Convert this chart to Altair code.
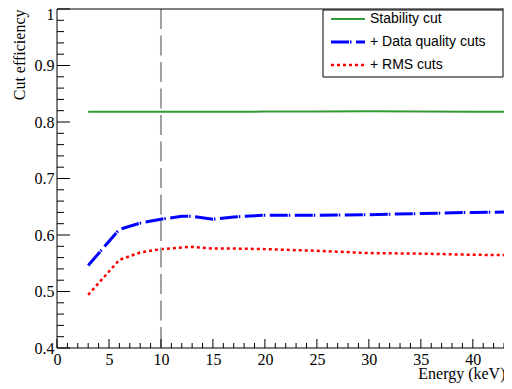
import altair as alt
import pandas as pd

# ---- data ----
energy = [3, 6, 8, 10, 12, 13, 15, 17, 20, 25, 30, 35, 40, 45]
stability = [0.818, 0.818, 0.818, 0.818, 0.818, 0.818, 0.818, 0.818, 0.8185, 0.8188, 0.819, 0.8185, 0.818, 0.818]
data_quality = [0.546, 0.610, 0.621, 0.628, 0.633, 0.633, 0.628, 0.632, 0.635, 0.635, 0.636, 0.638, 0.640, 0.641]
rms = [0.494, 0.556, 0.569, 0.575, 0.578, 0.579, 0.576, 0.576, 0.575, 0.572, 0.568, 0.567, 0.565, 0.564]

series_names = ["Stability cut", "+ Data quality cuts", "+ RMS cuts"]
series_values = [stability, data_quality, rms]
series_colors = ["#339933", "#0000ff", "#ff0000"]
series_dash = [None, [18, 1, 1.5, 4.5], [3, 3]]
series_width = [2, 3, 2.5]

threshold_energy = [10]
x_major = [0, 5, 10, 15, 20, 25, 30, 35, 40]
x_minor = [v for v in range(0, 44) if v % 5 != 0]
y_major = [0.4, 0.5, 0.6, 0.7, 0.8, 0.9, 1.0]
y_minor = [round(0.4 + 0.02 * i, 2) for i in range(31) if i % 5 != 0]

X_DOMAIN = [0, 43.0]
Y_DOMAIN = [0.4, 1.0]
W, H = 447, 339
SERIF = "Liberation Serif"
SANS = "Liberation Sans"

xs = alt.Scale(domain=X_DOMAIN, nice=False, zero=False)
ys = alt.Scale(domain=Y_DOMAIN, nice=False, zero=False)

x_axis = alt.Axis(
    values=x_major, ticks=False, domain=False, grid=False,
    labelFont=SERIF, labelFontSize=16, labelColor="black", labelPadding=3,
    labelFlush=False,
    title="Energy (keV)", titleFont=SERIF, titleFontSize=16, titleFontWeight="normal",
    titleColor="black", titleAlign="right", titleX=W + 1, titleY=30,
    titleBaseline="alphabetic",
)
y_axis = alt.Axis(
    values=y_major, ticks=False, domain=False, grid=False,
    labelFont=SERIF, labelFontSize=16, labelColor="black", labelPadding=3,
    labelFlush=False,
    labelExpr="datum.value == 1 ? '1' : format(datum.value, '.1f')",
    labelOffset={"condition": {"test": "datum.value == 1", "value": 5}, "value": 0},
    title="Cut efficiency", titleFont=SERIF, titleFontSize=16, titleFontWeight="normal",
    titleColor="black", titleAngle=270, titleAlign="right", titleX=-38, titleY=0,
    titleBaseline="middle",
)

def X(field):
    return alt.X(field, scale=xs, axis=x_axis)

def Y(field):
    return alt.Y(field, scale=ys, axis=y_axis)

layers = []
for i, (name, vals) in enumerate(zip(series_names, series_values)):
    df = pd.DataFrame({"energy": energy, "eff": vals})
    mk = dict(color=series_colors[i], strokeWidth=series_width[i], clip=True)
    if series_dash[i] is not None:
        mk["strokeDash"] = series_dash[i]
    layers.append(
        alt.Chart(df).mark_line(**mk).encode(x=X("energy:Q"), y=Y("eff:Q"))
    )

# threshold line
layers.append(
    alt.Chart(pd.DataFrame({"energy": threshold_energy})).mark_rule(
        color="#a0a0a0", strokeWidth=2, strokeDash=[20, 6.5]
    ).encode(x=X("energy:Q"))
)

# frame (top, left, bottom; the right side is cut off in the reference)
one = pd.DataFrame({"a": [0]})
layers.append(alt.Chart(one).mark_rule(color="black", strokeWidth=1).encode(
    x=alt.value(0), x2=alt.value(W), y=alt.value(0)))
layers.append(alt.Chart(one).mark_rule(color="black", strokeWidth=1).encode(
    x=alt.value(0), x2=alt.value(W), y=alt.value(H)))
layers.append(alt.Chart(one).mark_rule(color="black", strokeWidth=1).encode(
    x=alt.value(0), y=alt.value(0), y2=alt.value(H)))

# inward ticks
layers.append(
    alt.Chart(pd.DataFrame({"energy": x_major})).mark_rule(color="black", strokeWidth=1).encode(
        x=X("energy:Q"), y=alt.value(H), y2=alt.value(H - 9))
)
layers.append(
    alt.Chart(pd.DataFrame({"energy": x_minor})).mark_rule(color="black", strokeWidth=1).encode(
        x=X("energy:Q"), y=alt.value(H), y2=alt.value(H - 5))
)
layers.append(
    alt.Chart(pd.DataFrame({"eff": y_major})).mark_rule(color="black", strokeWidth=1).encode(
        y=Y("eff:Q"), x=alt.value(0), x2=alt.value(13))
)
layers.append(
    alt.Chart(pd.DataFrame({"eff": y_minor})).mark_rule(color="black", strokeWidth=1).encode(
        y=Y("eff:Q"), x=alt.value(0), x2=alt.value(7))
)

# legend box
layers.append(
    alt.Chart(one).mark_rect(fill="white", stroke="black", strokeWidth=1).encode(
        x=alt.value(266), x2=alt.value(446), y=alt.value(1), y2=alt.value(68))
)
row_y = [10, 33, 56]
for i, name in enumerate(series_names):
    mk = dict(color=series_colors[i], strokeWidth=series_width[i])
    if series_dash[i] is not None:
        mk["strokeDash"] = series_dash[i]
    layers.append(
        alt.Chart(one).mark_rule(**mk).encode(
            x=alt.value(274), x2=alt.value(308), y=alt.value(row_y[i]))
    )
    layers.append(
        alt.Chart(one).mark_text(text=name, font=SANS, fontSize=14, color="black",
                                 align="left", baseline="middle").encode(
            x=alt.value(313), y=alt.value(row_y[i]))
    )

chart = alt.layer(*layers).properties(
    width=W, height=H,
    autosize=alt.AutoSizeParams(type="none"),
    padding={"left": 49, "top": 1, "right": 0, "bottom": 36},
    background="white",
).configure_view(stroke=None)

chart.save("out.html", embed_options={"renderer": "svg", "actions": False})
